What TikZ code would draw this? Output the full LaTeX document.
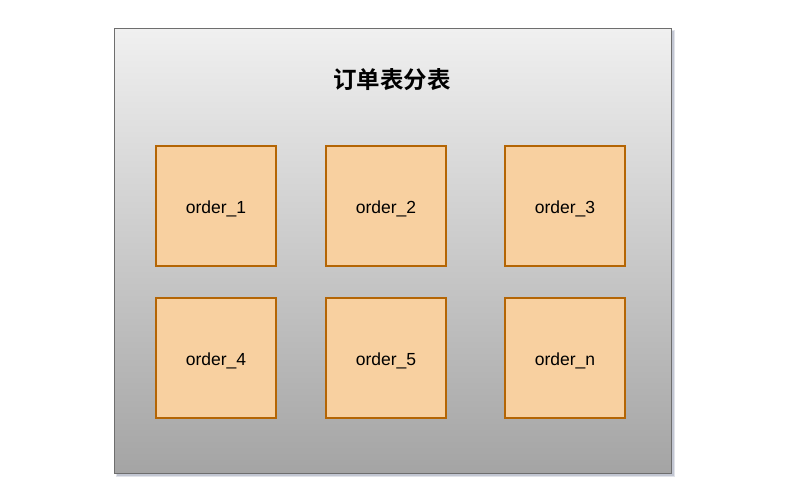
\documentclass[tikz,border=0pt]{standalone}
\usepackage{fontspec}
\setmainfont{Liberation Sans}
\newfontfamily\cjk{Noto Sans CJK SC}[BoldFont={* Bold}]
\usetikzlibrary{shadows}
\definecolor{boxfill}{HTML}{F8D0A0}
\definecolor{boxdraw}{HTML}{B46504}
\definecolor{outerdraw}{HTML}{6E6E6E}
\definecolor{gtop}{HTML}{F0F0F0}
\definecolor{gbot}{HTML}{A4A4A4}
\definecolor{shadowc}{HTML}{8890A8}
\tikzset{
  tablebox/.style={draw=boxdraw, fill=boxfill, line width=1.2pt, minimum width=120pt, minimum height=120pt, inner sep=0pt, font=\fontsize{17.5}{20}\selectfont},
  outerbox/.style={draw=outerdraw, line width=1.3pt, top color=gtop, bottom color=gbot, shading angle=0},
  boxlabel/.style={font=\fontsize{17.5}{20}\selectfont, inner sep=0pt},
}
\begin{document}
\begin{tikzpicture}[x=1pt,y=-1pt]
\useasboundingbox (0,0) rectangle (786,503);
\fill[shadowc, opacity=0.25] (116,30) rectangle (675,477);
\fill[shadowc, opacity=0.35] (117,31) rectangle (674,476);
\node[outerbox, minimum width=557pt, minimum height=445pt, inner sep=0pt, anchor=north west] (outer) at (114,28) {};
\node[font=\cjk\bfseries\fontsize{23.5}{26}\selectfont] (title) at (392,80) {订单表分表};
\foreach \n/\x/\y/\t in {o1/216/206/order\_1, o2/386/206/order\_2, o3/565/206/order\_3, o4/216/358/order\_4, o5/386/358/order\_5, on/565/358/order\_n}{
  \node[tablebox] (\n) at (\x,\y) {};
  \node[boxlabel] (\n-label) at ([yshift=-2.5pt]\n.center) {\t};
}
\end{tikzpicture}
\end{document}
